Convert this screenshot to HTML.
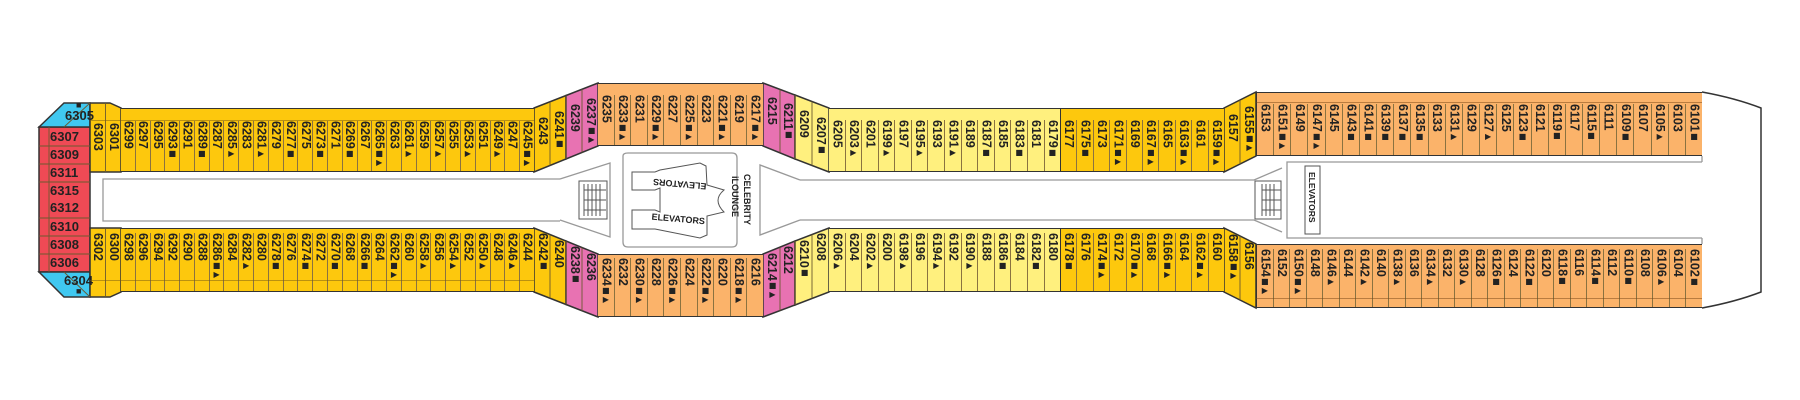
<!DOCTYPE html>
<html><head><meta charset="utf-8"><style>
body{margin:0;width:1800px;height:400px;background:#fff;position:relative;overflow:hidden;font-family:"Liberation Sans Narrow","Liberation Sans",sans-serif;}
svg{position:absolute;left:0;top:0}
.r{position:absolute;display:flex;box-sizing:border-box}
.r>div{flex:1;border-left:1px solid #8a7240;writing-mode:vertical-rl;font-weight:bold;font-size:12.5px;line-height:13px;color:#222;display:flex;align-items:center;white-space:nowrap;overflow:hidden}
.r>div:first-child{border-left:none}
.t{position:absolute;writing-mode:vertical-rl;font-weight:bold;font-size:12.5px;line-height:13px;color:#222;white-space:nowrap}
.h{position:absolute;font-weight:bold;font-size:13px;color:#222;font-family:"Liberation Sans Narrow","Liberation Sans",sans-serif}
i{font-style:normal;font-size:8px;line-height:9px;text-orientation:upright;font-family:"DejaVu Sans",sans-serif}
</style></head><body>
<svg width="1800" height="400" viewBox="0 0 1800 400">
<g stroke="#333" stroke-width="1.5">
<polygon points="39,127 90,127 90,272 39,272" fill="#ef4a55"/>
<polygon points="39,127 64,103 90,103 90,127" fill="#40c8f0"/>
<polygon points="39,272 90,272 90,297 64,297" fill="#40c8f0"/>
<polygon points="90,103 110,103 121,108 121,172 90,172" fill="#fdc80d"/>
<polygon points="90,228 121,228 121,292 110,297 90,297" fill="#fdc80d"/>
<polygon points="534,108 566,95.5 566,159 534,172" fill="#fdc80d"/>
<polygon points="566,95.5 598,83 598,146 566,159" fill="#e872b2"/>
<polygon points="534,292 566,304.5 566,241 534,228" fill="#fdc80d"/>
<polygon points="566,304.5 598,317 598,254 566,241" fill="#e872b2"/>
<polygon points="763,83 795,95 795,159 763,146" fill="#e872b2"/>
<polygon points="795,95 829,108 829,172 795,159" fill="#fff07e"/>
<polygon points="763,317 795,305 795,241 763,254" fill="#e872b2"/>
<polygon points="795,305 829,292 829,228 795,241" fill="#fff07e"/>
<polygon points="1224,108 1256,92 1256,156 1224,172" fill="#fdc80d"/>
<polygon points="1224,292 1256,308 1256,244 1224,228" fill="#fdc80d"/>
<path d="M1702,92 Q1735,98 1761,108 L1761,292 Q1735,302 1702,308" fill="none"/>
</g>
<g stroke="#6b5a30" stroke-width="0.9">
<line x1="49" y1="127" x2="49" y2="272"/>
<line x1="39" y1="146" x2="90" y2="146"/><line x1="39" y1="164" x2="90" y2="164"/><line x1="39" y1="182" x2="90" y2="182"/><line x1="39" y1="218" x2="90" y2="218"/><line x1="39" y1="236" x2="90" y2="236"/><line x1="39" y1="254" x2="90" y2="254"/>
<line x1="64" y1="127" x2="90" y2="103"/><line x1="64" y1="272" x2="90" y2="297"/>
<line x1="105.5" y1="103" x2="105.5" y2="172"/><line x1="105.5" y1="228" x2="105.5" y2="297"/>
<line x1="550" y1="101.7" x2="550" y2="165.5"/><line x1="566" y1="95.5" x2="566" y2="159"/><line x1="582" y1="89.2" x2="582" y2="152.5"/>
<line x1="550" y1="298.3" x2="550" y2="234.5"/><line x1="566" y1="304.5" x2="566" y2="241"/><line x1="582" y1="310.8" x2="582" y2="247.5"/>
<line x1="780" y1="89.4" x2="780" y2="152.4"/><line x1="795" y1="95" x2="795" y2="159"/><line x1="812" y1="101.5" x2="812" y2="165.5"/>
<line x1="780" y1="310.6" x2="780" y2="247.6"/><line x1="795" y1="305" x2="795" y2="241"/><line x1="812" y1="298.5" x2="812" y2="234.5"/>
<line x1="1240" y1="100" x2="1240" y2="164"/><line x1="1240" y1="300" x2="1240" y2="236"/>
</g>
<g stroke="#999" stroke-width="1.3" fill="none">
<polyline points="560,179 103,179 103,221 560,221"/>
<polyline points="560,179 610,163 610,237 560,220"/>
<polyline points="800,180 760,165 760,235 800,220"/>
<line x1="800" y1="180" x2="1254" y2="180"/><line x1="800" y1="220" x2="1254" y2="220"/>
<polyline points="1254,180 1282,168"/><polyline points="1254,220 1282,232"/>
<polyline points="1702,162 1287,162 1287,238 1702,238"/>
<line x1="1702" y1="156" x2="1702" y2="162"/><line x1="1702" y1="238" x2="1702" y2="244"/>
<path d="M623,156 Q623,153 628,153 L732,153 Q737,153 737,158 L737,242 Q737,247 732,247 L628,247 Q623,247 623,242 Z"/>
</g>
<g stroke="#555" stroke-width="1" fill="#fff">
<rect x="579" y="181" width="28" height="38"/>
<line x1="584" y1="184" x2="584" y2="216"/><line x1="588" y1="184" x2="588" y2="216"/><line x1="592" y1="184" x2="592" y2="216"/><line x1="596" y1="184" x2="596" y2="216"/><line x1="600" y1="184" x2="600" y2="216"/>
<line x1="584" y1="190" x2="606" y2="190"/><line x1="584" y1="200" x2="606" y2="200"/><line x1="584" y1="210" x2="606" y2="210"/>
<rect x="1255" y="181" width="26" height="38"/>
<line x1="1262" y1="184" x2="1262" y2="216"/><line x1="1266" y1="184" x2="1266" y2="216"/><line x1="1270" y1="184" x2="1270" y2="216"/><line x1="1274" y1="184" x2="1274" y2="216"/>
<line x1="1262" y1="190" x2="1281" y2="190"/><line x1="1262" y1="200" x2="1281" y2="200"/><line x1="1262" y1="210" x2="1281" y2="210"/>
<rect x="1305" y="166" width="15" height="68"/>
<path d="M632,172 L655,172 L660,170 L700,163 L706,166 L707,185 L724,190 Q712,200 724,212 L707,216 L707,235 L700,238 L660,230 L655,229 L632,229 L632,210 L655,210 L660,212 L660,188 L655,190 L632,190 Z"/>
</g>
<g font-family="Liberation Sans Narrow, Liberation Sans, sans-serif" font-weight="bold" font-size="9" fill="#222">
<text x="0" y="0" transform="translate(680,181) rotate(185)" text-anchor="middle">ELEVATORS</text>
<text x="0" y="0" transform="translate(678,222) rotate(5)" text-anchor="middle">ELEVATORS</text>
</g>
</svg>
<div class="t" style="left:742px;top:174px;font-size:9px;line-height:10px">CELEBRITY</div>
<div class="t" style="left:730px;top:176px;font-size:9px;line-height:10px">iLOUNGE</div>
<div class="t" style="left:1307px;top:172px;font-size:8.5px;line-height:10px">ELEVATORS</div>

<div class="h" style="left:50px;top:129px">6307</div>
<div class="h" style="left:50px;top:147px">6309</div>
<div class="h" style="left:50px;top:165px">6311</div>
<div class="h" style="left:50px;top:183px">6315</div>
<div class="h" style="left:50px;top:200px">6312</div>
<div class="h" style="left:50px;top:219px">6310</div>
<div class="h" style="left:50px;top:237px">6308</div>
<div class="h" style="left:50px;top:255px">6306</div>
<div class="h" style="left:65px;top:108px">6305</div>
<div class="h" style="left:64px;top:273px">6304</div>
<div class="h" style="left:76px;top:100px;font-size:9px">■</div>
<div class="h" style="left:76px;top:286px;font-size:9px">■</div>

<div class="r" style="left:121px;top:108px;width:413px;height:64px;background:#fdc80d;border:1.5px solid #333;border-left:none;border-right:none;padding-top:12px">
<div>6299</div><div>6297</div><div>6295</div><div>6293<i>■</i></div><div>6291</div><div>6289<i>■</i></div><div>6287</div><div>6285<i>▶</i></div><div>6283</div><div>6281<i>▶</i></div><div>6279</div><div>6277<i>■</i></div><div>6275</div><div>6273<i>■</i></div><div>6271</div><div>6269<i>■</i></div><div>6267</div><div>6265<i>■▶</i></div><div>6263</div><div>6261<i>▶</i></div><div>6259</div><div>6257<i>▶</i></div><div>6255</div><div>6253<i>▶</i></div><div>6251</div><div>6249<i>▶</i></div><div>6247</div><div>6245<i>■▶</i></div></div>
<div class="t" style="left:91px;top:123px">6303</div><div class="t" style="left:107px;top:123px">6301</div>
<div class="t" style="left:536px;top:117px">6243</div><div class="t" style="left:552px;top:111px">6241<i>■</i></div>
<div class="t" style="left:568px;top:104px">6239</div><div class="t" style="left:584px;top:98px">6237<i>■▶</i></div>
<div class="r" style="left:598px;top:83px;width:165px;height:63px;background:#fbb36a;border:1.5px solid #333;border-left:none;border-right:none;padding-top:11px">
<div>6235</div><div>6233<i>■▶</i></div><div>6231</div><div>6229<i>■▶</i></div><div>6227</div><div>6225<i>■▶</i></div><div>6223</div><div>6221<i>■▶</i></div><div>6219</div><div>6217<i>■▶</i></div></div>
<div class="t" style="left:765px;top:97px">6215</div><div class="t" style="left:781px;top:103px">6211<i>■</i></div>
<div class="t" style="left:797px;top:110px">6209</div><div class="t" style="left:814px;top:117px">6207<i>■</i></div>
<div class="r" style="left:829px;top:108px;width:231px;height:64px;background:#fff07e;border:1.5px solid #333;border-left:none;border-right:none;padding-top:11px">
<div>6205</div><div>6203<i>▶</i></div><div>6201</div><div>6199<i>▶</i></div><div>6197</div><div>6195<i>▶</i></div><div>6193</div><div>6191<i>▶</i></div><div>6189</div><div>6187<i>■</i></div><div>6185</div><div>6183<i>■</i></div><div>6181</div><div>6179<i>■</i></div></div>
<div class="r" style="left:1060px;top:108px;width:164px;height:64px;background:#fdc80d;border:1.5px solid #333;border-right:none;padding-top:11px">
<div>6177</div><div>6175<i>■</i></div><div>6173</div><div>6171<i>■▶</i></div><div>6169</div><div>6167<i>■▶</i></div><div>6165</div><div>6163<i>■▶</i></div><div>6161</div><div>6159<i>■▶</i></div></div>
<div class="t" style="left:1226px;top:114px">6157</div><div class="t" style="left:1242px;top:106px">6155<i>■▶</i></div>
<div class="r" style="left:1256px;top:92px;width:446px;height:64px;background:#fbb36a;border:1.5px solid #333;border-right:none;padding-top:11px">
<div>6153</div><div>6151<i>■▶</i></div><div>6149</div><div>6147<i>■▶</i></div><div>6145</div><div>6143<i>■</i></div><div>6141<i>■</i></div><div>6139<i>■</i></div><div>6137<i>■</i></div><div>6135<i>■</i></div><div>6133</div><div>6131<i>▶</i></div><div>6129</div><div>6127<i>▶</i></div><div>6125</div><div>6123<i>■</i></div><div>6121</div><div>6119<i>■</i></div><div>6117</div><div>6115<i>■</i></div><div>6111</div><div>6109<i>■</i></div><div>6107</div><div>6105<i>▶</i></div><div>6103</div><div>6101<i>■</i></div></div>

<div class="r" style="left:121px;top:228px;width:413px;height:64px;background:#fdc80d;border:1.5px solid #333;border-left:none;border-right:none;padding-top:4px">
<div>6298</div><div>6296</div><div>6294</div><div>6292</div><div>6290</div><div>6288</div><div>6286<i>■▶</i></div><div>6284</div><div>6282<i>▶</i></div><div>6280</div><div>6278<i>■</i></div><div>6276</div><div>6274<i>■</i></div><div>6272</div><div>6270<i>■</i></div><div>6268</div><div>6266<i>■</i></div><div>6264</div><div>6262<i>■▶</i></div><div>6260</div><div>6258<i>▶</i></div><div>6256</div><div>6254<i>▶</i></div><div>6252</div><div>6250<i>▶</i></div><div>6248</div><div>6246<i>▶</i></div><div>6244</div></div>
<div class="t" style="left:91px;top:233px">6302</div><div class="t" style="left:107px;top:233px">6300</div>
<div class="t" style="left:536px;top:233px">6242<i>■</i></div><div class="t" style="left:552px;top:240px">6240</div>
<div class="t" style="left:568px;top:246px">6238<i>■</i></div><div class="t" style="left:584px;top:253px">6236</div>
<div class="r" style="left:598px;top:254px;width:165px;height:63px;background:#fbb36a;border:1.5px solid #333;border-left:none;border-right:none;padding-top:3px">
<div>6234<i>■▶</i></div><div>6232</div><div>6230<i>■▶</i></div><div>6228</div><div>6226<i>■▶</i></div><div>6224</div><div>6222<i>■▶</i></div><div>6220</div><div>6218<i>■▶</i></div><div>6216</div></div>
<div class="t" style="left:765px;top:253px">6214<i>■▶</i></div><div class="t" style="left:781px;top:246px">6212</div>
<div class="t" style="left:797px;top:240px">6210<i>■</i></div><div class="t" style="left:814px;top:233px">6208</div>
<div class="r" style="left:829px;top:228px;width:231px;height:64px;background:#fff07e;border:1.5px solid #333;border-left:none;border-right:none;padding-top:4px">
<div>6206<i>▶</i></div><div>6204</div><div>6202<i>▶</i></div><div>6200</div><div>6198<i>▶</i></div><div>6196</div><div>6194<i>▶</i></div><div>6192</div><div>6190<i>▶</i></div><div>6188</div><div>6186<i>■</i></div><div>6184</div><div>6182<i>■</i></div><div>6180</div></div>
<div class="r" style="left:1060px;top:228px;width:164px;height:64px;background:#fdc80d;border:1.5px solid #333;border-right:none;padding-top:4px">
<div>6178<i>■</i></div><div>6176</div><div>6174<i>■▶</i></div><div>6172</div><div>6170<i>■▶</i></div><div>6168</div><div>6166<i>■▶</i></div><div>6164</div><div>6162<i>■▶</i></div><div>6160</div></div>
<div class="t" style="left:1226px;top:234px">6158<i>■▶</i></div><div class="t" style="left:1242px;top:242px">6156</div>
<div class="r" style="left:1256px;top:244px;width:446px;height:64px;background:#fbb36a;border:1.5px solid #333;border-right:none;padding-top:4px">
<div>6154<i>■▶</i></div><div>6152</div><div>6150<i>■▶</i></div><div>6148</div><div>6146<i>▶</i></div><div>6144</div><div>6142<i>▶</i></div><div>6140</div><div>6138<i>▶</i></div><div>6136</div><div>6134<i>▶</i></div><div>6132</div><div>6130<i>▶</i></div><div>6128</div><div>6126<i>■</i></div><div>6124</div><div>6122<i>■</i></div><div>6120</div><div>6118<i>■</i></div><div>6116</div><div>6114<i>■</i></div><div>6112</div><div>6110<i>■</i></div><div>6108</div><div>6106<i>▶</i></div><div>6104</div><div>6102<i>■</i></div></div>

<div style="position:absolute;left:90px;top:120px;width:444px;height:1px;background:rgba(120,90,20,.5)"></div>
<div style="position:absolute;left:1256px;top:102px;width:446px;height:1px;background:rgba(120,70,20,.5)"></div>
<div style="position:absolute;left:90px;top:280px;width:444px;height:1px;background:rgba(120,90,20,.5)"></div>
<div style="position:absolute;left:1256px;top:298px;width:446px;height:1px;background:rgba(120,70,20,.5)"></div>
</body></html>
